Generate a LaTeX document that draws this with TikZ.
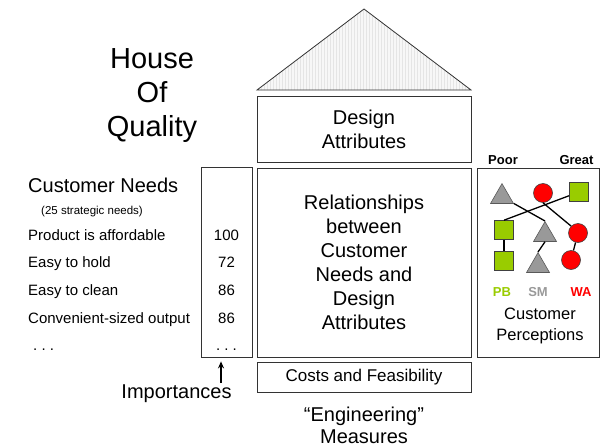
\documentclass[tikz,border=0pt]{standalone}
\usepackage{fontspec}
\setmainfont{Liberation Sans}
\usepackage{tikz}
\usetikzlibrary{calc}
\usetikzlibrary{positioning}
\usetikzlibrary{shapes.geometric}
\usetikzlibrary{arrows.meta}
\usetikzlibrary{patterns}
\definecolor{pbgreen}{RGB}{153,204,0}
\definecolor{smgray}{RGB}{153,153,153}
\definecolor{wared}{RGB}{255,0,0}
\newcommand{\sz}[2]{\fontsize{#1pt}{#2pt}\selectfont}

\begin{document}
\begin{tikzpicture}[x=1pt, y=-1pt,
  box/.style={draw=black!80, line width=0.8pt, rectangle, inner sep=0pt, align=center, font=\sz{20}{24}},
  roof/.style={draw=black!80, line width=0.8pt, preaction={fill=black!3}, pattern=vertical lines, pattern color=black!10},
  item/.style={font=\sz{15}{18}, inner sep=0pt, text height=11pt, text depth=3pt},
  tri/.style={regular polygon, regular polygon sides=3, minimum size=26.5pt, inner sep=0pt, fill=smgray, draw=black!65, line width=0.6pt, anchor=north},
  ball/.style={circle, minimum size=19pt, inner sep=0pt, fill=wared, draw=black!75, line width=0.6pt},
  sq/.style={rectangle, minimum size=19pt, inner sep=0pt, fill=pbgreen, draw=black!75, line width=0.6pt},
  link/.style={draw=black, line width=1.3pt},
  lbl/.style={font=\sz{13}{15}\bfseries, inner sep=0pt}
]
\useasboundingbox (0,0) rectangle (602,447);

\coordinate (eaveL) at (257,90);
\coordinate (eaveR) at (471,90);
\coordinate (ridge) at (364,9);
\draw[roof] (eaveL) -- (ridge) -- (eaveR) -- cycle;

\node[box, minimum width=214pt, minimum height=66pt] (design) at (364,129) {Design\\Attributes};
\node[box, minimum width=214pt, minimum height=189pt] (rel) at (364,262.5) {Relationships\\between\\Customer\\Needs and\\Design\\Attributes};
\node[box, minimum width=214pt, minimum height=30pt, font=\sz{17}{20}] (cost) at (364,377) {Costs and Feasibility};
\node[box, minimum width=51pt, minimum height=190pt] (impbox) at (226.5,262) {};
\node[box, minimum width=122pt, minimum height=189pt] (perc) at (538,262.5) {};

\node[font=\sz{29}{34}, align=center, inner sep=0pt] (hoq) at (152,96) {House\\Of\\Quality};
\node[anchor=west, font=\sz{20}{24}, inner sep=0pt] (needs) at (28,185) {Customer Needs};
\node[anchor=west, font=\sz{11.5}{14}, inner sep=0pt] (strat) at (41,212) {(25 strategic needs)};

\foreach \need/\imp [count=\i] in {Product is affordable/100, Easy to hold/72, Easy to clean/86, Convenient-sized output/86, {\hspace{5pt}.\ .\ .}/{.\ .\ .}} {
  \node[item, anchor=west] (need\i) at (28,208.3+27.7*\i) {\need};
  \node[item] (imp\i) at (impbox.center |- need\i) {\imp};
}

\node[font=\sz{20}{24}, inner sep=0pt] (imptxt) at (176.5,394) {Importances};
\coordinate (arrtail) at (221,383);
\draw[-{Stealth[length=7pt,width=6pt]}, line width=1.5pt] (arrtail) -- ([yshift=-4pt]impbox.south -| arrtail);

\node[font=\sz{20}{22}, align=center, inner sep=0pt] (eng) at (364,425.5) {“Engineering”\\Measures};

\node[lbl] (poor) at (503,160) {Poor};
\node[lbl] (great) at (576.5,160) {Great};

\node[tri] (tri1) at (502,183) {};
\node[tri] (tri2) at (545,221) {};
\node[tri] (tri3) at (538,252) {};
\node[ball] (c1) at (543,193) {};
\node[ball] (c2) at (578,233) {};
\node[ball] (c3) at (571,260) {};
\node[sq] (sq1) at (579,192) {};
\node[sq] (sq2) at (504,230) {};
\node[sq] (sq3) at (504,260.5) {};

\draw[link] (tri1) -- (tri2.north);
\draw[link] (sq1) -- (sq2.north);
\draw[link] (c1.south) -- (c2.north west);
\draw[link] (sq2) -- (sq3);
\draw[link] (tri2.south) -- (tri3.north);
\draw[link] (c2) -- (c3);

\node[lbl, text=pbgreen] (pb) at (502,292) {PB};
\node[lbl, text=smgray] (sm) at (538,292) {SM};
\node[lbl, text=wared] (wa) at (581,292) {WA};
\node[font=\sz{16.5}{21}, align=center, inner sep=0pt] (custp) at (540,326) {Customer\\Perceptions};
\end{tikzpicture}
\end{document}
